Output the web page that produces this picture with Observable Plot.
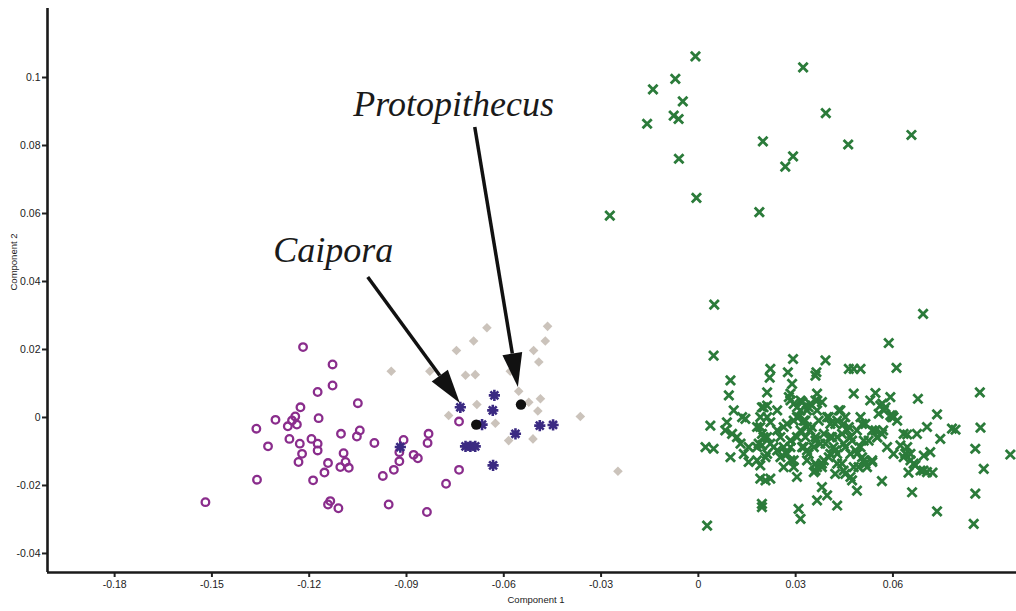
<!DOCTYPE html>
<html>
<head>
<meta charset="utf-8">
<script src="https://cdn.jsdelivr.net/npm/d3@7"></script>
<script src="https://cdn.jsdelivr.net/npm/@observablehq/plot@0.6"></script>
<style>
  body { margin: 0; background: #fff; }
  #chart svg { display: block; }
</style>
</head>
<body>
<div id="chart"></div>
<script>
// PCA scores [Component 1, Component 2]
const greenGroup = [
  [-0.0009,0.1062],[-0.0071,0.0996],[-0.0140,0.0965],[-0.0048,0.0930],[-0.0076,0.0888],[-0.0061,0.0878],
  [-0.0158,0.0864],[-0.0060,0.0761],[-0.0006,0.0646],[-0.0273,0.0594],[0.0323,0.1030],[0.0393,0.0895],
  [0.0199,0.0812],[0.0462,0.0803],[0.0657,0.0831],[0.0292,0.0768],[0.0268,0.0738],[0.0188,0.0604],
  [0.0049,0.0332],[0.0693,0.0305],[0.0587,0.0219],[0.0047,0.0182],[0.0292,0.0172],[0.0392,0.0168],
  [0.0222,0.0143],[0.0276,0.0133],[0.0364,0.0133],[0.0361,0.0123],[0.0464,0.0143],[0.0479,0.0143],
  [0.0500,0.0143],[0.0611,0.0146],[0.0220,0.0117],[0.0099,0.0109],[0.0289,0.0099],[0.0094,0.0065],
  [0.0212,0.0074],[0.0284,0.0070],[0.0366,0.0070],[0.0479,0.0070],[0.0546,0.0072],[0.0592,0.0060],
  [0.0677,0.0055],[0.0868,0.0074],[0.0109,0.0021],[0.0135,0.0001],[0.0037,-0.0024],[0.0088,-0.0014],
  [0.0736,0.0009],[0.0870,-0.0030],[0.0782,-0.0033],[0.0793,-0.0036],[0.0644,-0.0050],[0.0674,-0.0048],
  [0.0705,-0.0028],[0.0746,-0.0063],[0.0854,-0.0092],[0.0962,-0.0109],[0.0880,-0.0151],[0.0715,-0.0102],
  [0.0022,-0.0087],[0.0047,-0.0092],[0.0099,-0.0117],[0.0854,-0.0224],[0.0736,-0.0276],[0.0659,-0.0220],
  [0.0566,-0.0187],[0.0489,-0.0215],[0.0428,-0.0259],[0.0366,-0.0244],[0.0397,-0.0229],[0.0381,-0.0205],
  [0.0309,-0.0269],[0.0315,-0.0298],[0.0196,-0.0254],[0.0196,-0.0264],[0.0027,-0.0318],[0.0849,-0.0313],
  [0.0191,-0.0180],[0.0207,-0.0185],[0.0222,-0.0180],[0.0191,-0.0141],
  [0.0196,0.0030],[0.0212,0.0035],[0.0191,0.0001],[0.0181,-0.0028],[0.0196,-0.0048],[0.0186,-0.0077],
  [0.0196,-0.0082],[0.0222,-0.0014],[0.0243,-0.0038],[0.0253,-0.0058],[0.0263,-0.0087],[0.0273,-0.0107],
  [0.0284,-0.0126],[0.0294,-0.0146],[0.0304,-0.0175],[0.0279,0.0060],[0.0294,0.0040],[0.0315,0.0050],
  [0.0330,0.0035],[0.0345,0.0040],[0.0366,0.0050],[0.0315,0.0021],[0.0304,0.0001],[0.0325,-0.0009],
  [0.0335,-0.0028],[0.0315,-0.0038],[0.0345,-0.0038],[0.0361,-0.0058],[0.0376,-0.0077],[0.0387,-0.0048],
  [0.0407,-0.0019],[0.0397,0.0001],[0.0428,-0.0009],[0.0438,0.0021],[0.0448,-0.0019],[0.0459,-0.0038],
  [0.0428,-0.0058],[0.0417,-0.0087],[0.0407,-0.0107],[0.0387,-0.0126],[0.0366,-0.0146],[0.0356,-0.0161],
  [0.0381,-0.0136],[0.0428,-0.0136],[0.0448,-0.0156],[0.0469,-0.0175],[0.0479,-0.0146],[0.0489,-0.0107],
  [0.0500,-0.0087],[0.0510,-0.0068],[0.0500,0.0001],[0.0515,-0.0019],[0.0536,-0.0038],[0.0551,-0.0058],
  [0.0566,-0.0048],[0.0561,0.0035],[0.0572,0.0021],[0.0592,0.0006],[0.0602,0.0001],[0.0613,-0.0009],
  [0.0633,-0.0048],[0.0644,-0.0087],[0.0654,-0.0107],[0.0633,-0.0117],[0.0664,-0.0136],[0.0685,-0.0156],
  [0.0705,-0.0161],[0.0695,-0.0112],[0.0623,-0.0082],[0.0510,-0.0126],[0.0520,-0.0146],[0.0536,-0.0131],
  [0.0469,-0.0107],[0.0335,-0.0097],[0.0325,-0.0087],[0.0284,-0.0068],[0.0253,-0.0117],[0.0232,-0.0087],
  [0.0212,-0.0058],[0.0155,-0.0087],[0.0140,-0.0107],[0.0155,-0.0131],[0.0130,-0.0077],[0.0119,-0.0058],
  [0.0104,-0.0048],[0.0083,-0.0038],[0.0145,-0.0004],[0.0181,-0.0126],[0.0530,0.0050],
  [0.0335,0.0021],[0.0366,0.0021],[0.0407,-0.0058],[0.0448,-0.0077],[0.0469,-0.0058],[0.0356,-0.0087],
  [0.0304,-0.0058],[0.0273,-0.0019],[0.0243,0.0021],[0.0489,-0.0038],[0.0582,-0.0087],[0.0602,-0.0107],
  [0.0428,-0.0107],[0.0284,-0.0087],[0.0335,-0.0126],[0.0207,-0.0117],
  [0.0638,-0.0106],[0.0654,-0.0126],[0.0669,-0.0141],[0.0694,-0.0156],[0.0722,-0.0162],[0.0648,-0.0162],
  [0.0567,0.0041],[0.0598,0.0006],[0.0570,-0.0038],[0.0552,-0.0059],
  [0.0320,0.0045],[0.0340,0.0030],[0.0361,0.0050],[0.0381,0.0045],[0.0309,0.0001],[0.0330,-0.0009],
  [0.0350,-0.0028],[0.0371,-0.0009],[0.0402,0.0001],[0.0422,-0.0019],[0.0433,0.0021],[0.0453,0.0001],
  [0.0464,-0.0028],[0.0443,-0.0048],[0.0412,-0.0058],[0.0392,-0.0077],[0.0361,-0.0068],[0.0330,-0.0058],
  [0.0320,-0.0087],[0.0340,-0.0107],[0.0361,-0.0136],[0.0381,-0.0146],[0.0402,-0.0117],[0.0422,-0.0097],
  [0.0453,-0.0087],[0.0474,-0.0068],[0.0484,-0.0097],[0.0505,-0.0117],[0.0494,-0.0146],[0.0515,-0.0136],
  [0.0536,-0.0126],[0.0443,-0.0136],[0.0453,-0.0166],[0.0474,-0.0185],[0.0422,-0.0166],[0.0361,-0.0156],
  [0.0525,-0.0068],[0.0505,-0.0019],[0.0546,-0.0038],[0.0556,0.0011],[0.0577,0.0030],[0.0597,0.0001],
  [0.0201,0.0030],[0.0212,0.0001],[0.0191,-0.0028],[0.0201,-0.0058],[0.0222,-0.0077],[0.0181,-0.0087],
  [0.0212,-0.0107],[0.0263,-0.0028],[0.0284,-0.0068],[0.0273,-0.0107],[0.0294,-0.0126],[0.0263,-0.0146],
  [0.0284,0.0050],[0.0304,0.0030],[0.0294,-0.0009],[0.0243,-0.0097]
];

const ringGroup = [
  [-0.1219,0.0207],[-0.1128,0.0156],[-0.1128,0.0094],[-0.1174,0.0075],[-0.1050,0.0042],[-0.1227,0.0030],
  [-0.1304,-0.0007],[-0.1243,0.0003],[-0.1253,-0.0009],[-0.1266,-0.0026],[-0.1238,-0.0021],[-0.1171,-0.0002],
  [-0.1363,-0.0033],[-0.1102,-0.0048],[-0.1044,-0.0038],[-0.1053,-0.0056],[-0.1261,-0.0063],[-0.1193,-0.0063],
  [-0.1174,-0.0077],[-0.1174,-0.0097],[-0.1229,-0.0077],[-0.1327,-0.0085],[-0.1222,-0.0107],[-0.1233,-0.0131],
  [-0.1094,-0.0105],[-0.1142,-0.0134],[-0.1088,-0.0131],[-0.1104,-0.0146],[-0.1078,-0.0148],[-0.1153,-0.0162],
  [-0.0999,-0.0075],[-0.0909,-0.0066],[-0.0922,-0.0102],[-0.0922,-0.0129],[-0.0939,-0.0154],[-0.0973,-0.0172],
  [-0.0878,-0.0110],[-0.0865,-0.0120],[-0.0832,-0.0048],[-0.0835,-0.0075],[-0.0738,-0.0012],[-0.0738,-0.0154],
  [-0.0778,-0.0195],[-0.0837,-0.0278],[-0.0955,-0.0256],[-0.1361,-0.0183],[-0.1188,-0.0185],[-0.1520,-0.0249],
  [-0.1135,-0.0246],[-0.1142,-0.0256],[-0.1110,-0.0267]
];

const starGroup = [
  [-0.0734,0.0030],[-0.0629,0.0065],[-0.0634,0.0021],[-0.0667,-0.0021],[-0.0718,-0.0085],[-0.0703,-0.0085],
  [-0.0688,-0.0085],[-0.0633,-0.0141],[-0.0564,-0.0048],[-0.0489,-0.0024],[-0.0448,-0.0022],[-0.0919,-0.0087]
];

const diamondGroup = [
  [-0.0652,0.0264],[-0.0465,0.0268],[-0.0693,0.0225],[-0.0472,0.0225],[-0.0746,0.0197],[-0.0508,0.0197],
  [-0.0492,0.0163],[-0.0947,0.0136],[-0.0828,0.0136],[-0.0718,0.0124],[-0.0688,0.0126],[-0.0580,0.0136],
  [-0.0554,0.0077],[-0.0683,0.0038],[-0.0523,0.0045],[-0.0487,0.0055],[-0.0495,0.0019],[-0.0770,0.0006],
  [-0.0626,-0.0017],[-0.0585,-0.0068],[-0.0510,-0.0063],[-0.0364,0.0003],[-0.0248,-0.0158]
];

// fossil specimens
const fossils = [
  {name: "Caipora", pc1: -0.0685, pc2: -0.0021},
  {name: "Protopithecus", pc1: -0.0547, pc2: 0.0038}
];

// annotation labels and their pointer arrows (from near the label to the specimen)
const labels = [
  {text: "Caipora", x: -0.1311, y: 0.0456},
  {text: "Protopithecus", x: -0.1064, y: 0.0888}
];
const pointers = [
  {x1: -0.1018, y1: 0.0412, x2: -0.0734, y2: 0.0041},
  {x1: -0.0688, y1: 0.0853, x2: -0.0555, y2: 0.0088}
];

const xDomain = [-0.2007, 0.0981];
const yDomain = [-0.0456, 0.1203];
const xTicks = [-0.18, -0.15, -0.12, -0.09, -0.06, -0.03, 0, 0.03, 0.06];
const yTicks = [-0.04, -0.02, 0, 0.02, 0.04, 0.06, 0.08, 0.1];
const tickFmt = d => (d === 0 ? "0" : String(d));

// symbols
const timesSymbol = {
  draw(ctx, size) {
    const r = Math.sqrt(size / Math.PI);
    ctx.moveTo(-r, -r); ctx.lineTo(r, r);
    ctx.moveTo(r, -r); ctx.lineTo(-r, r);
  }
};
const starSymbol = {
  draw(ctx, size) {
    const r = Math.sqrt(size / Math.PI);
    for (let k = 0; k < 4; k++) {
      const a = k * Math.PI / 4;
      ctx.moveTo(-r * Math.cos(a), -r * Math.sin(a));
      ctx.lineTo(r * Math.cos(a), r * Math.sin(a));
    }
  }
};
const diamondSymbol = {
  draw(ctx, size) {
    const r = Math.sqrt(size / Math.PI);
    ctx.moveTo(0, -r); ctx.lineTo(r, 0); ctx.lineTo(0, r); ctx.lineTo(-r, 0); ctx.closePath();
  }
};

// arrows with filled triangular heads, positioned through the plot's scales
function pointerArrows(index, scales) {
  const g = d3.create("svg:g").attr("aria-label", "pointers");
  const headLen = 34, headHalf = 10;
  for (const p of pointers) {
    const x1 = scales.x(p.x1), y1 = scales.y(p.y1);
    const x2 = scales.x(p.x2), y2 = scales.y(p.y2);
    const a = Math.atan2(y2 - y1, x2 - x1);
    const bx = x2 - headLen * Math.cos(a), by = y2 - headLen * Math.sin(a);
    const nx = -Math.sin(a) * headHalf, ny = Math.cos(a) * headHalf;
    g.append("line")
      .attr("x1", x1).attr("y1", y1).attr("x2", bx).attr("y2", by)
      .attr("stroke", "#111").attr("stroke-width", 3.5);
    g.append("path")
      .attr("d", `M${x2},${y2}L${bx + nx},${by + ny}L${bx - nx},${by - ny}Z`)
      .attr("fill", "#111");
  }
  return g.node();
}

const chart = Plot.plot({
  width: 1016,
  height: 611,
  marginLeft: 47,
  marginRight: 0,
  marginTop: 8,
  marginBottom: 39,
  style: {fontFamily: "'Liberation Sans', Arial, sans-serif", background: "#fff", overflow: "visible"},
  x: {domain: xDomain},
  y: {domain: yDomain},
  marks: [
    Plot.axisX({ticks: xTicks, tickFormat: tickFmt, tickSize: 5, tickPadding: 3, strokeWidth: 2,
      stroke: "#222", fill: "#222", fontSize: 10.5, label: null}),
    Plot.axisY({ticks: yTicks, tickFormat: tickFmt, tickSize: 5, tickPadding: 2, strokeWidth: 2,
      stroke: "#222", fill: "#222", fontSize: 10.5, label: null}),
    Plot.ruleX([xDomain[0]], {stroke: "#1a1a1a", strokeWidth: 2.6}),
    Plot.ruleY([yDomain[0]], {stroke: "#1a1a1a", strokeWidth: 2.6}),
    Plot.text(["Component 1"], {frameAnchor: "bottom", dx: 4, dy: 30, fontSize: 9.5, fill: "#222"}),
    Plot.text(["Component 2"], {frameAnchor: "left", dx: -34, rotate: -90, fontSize: 9.5, fill: "#222"}),

    Plot.dot(diamondGroup, {x: d => d[0], y: d => d[1], symbol: diamondSymbol, r: 4.8,
      fill: "#cbc3bb", stroke: "none"}),
    Plot.dot(ringGroup, {x: d => d[0], y: d => d[1], symbol: "circle", r: 3.8,
      fill: "none", stroke: "#8a2d8c", strokeWidth: 2.3}),
    Plot.dot(starGroup, {x: d => d[0], y: d => d[1], symbol: starSymbol, r: 5.6,
      fill: "none", stroke: "#3b2a82", strokeWidth: 2.6}),
    Plot.dot(greenGroup, {x: d => d[0], y: d => d[1], symbol: timesSymbol, r: 4.6,
      fill: "none", stroke: "#2b7b3a", strokeWidth: 2.8}),
    Plot.dot(fossils, {x: "pc1", y: "pc2", r: 5.2, fill: "#111", stroke: "none"}),

    pointerArrows,
    Plot.text(labels, {x: "x", y: "y", text: "text", textAnchor: "start", lineAnchor: "bottom",
      fontFamily: "'Liberation Serif', 'Times New Roman', serif", fontStyle: "italic",
      fontSize: 36, fill: "#1a1a1a"})
  ]
});

document.getElementById("chart").appendChild(chart);
</script>
</body>
</html>
